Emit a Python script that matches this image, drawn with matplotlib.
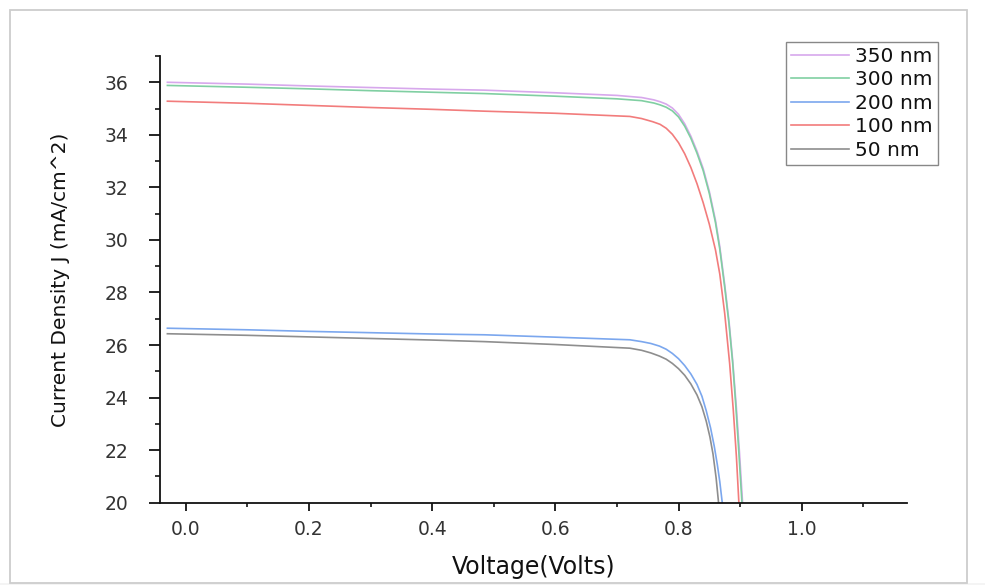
import numpy as np
import matplotlib.pyplot as plt
from matplotlib.ticker import MultipleLocator
from matplotlib.patches import Rectangle

# J-V curves for different layer thicknesses
v_350 = [-0.03, 0.1, 0.2, 0.3, 0.4, 0.485, 0.6, 0.7, 0.74, 0.76, 0.77, 0.78, 0.79, 0.80,
         0.81, 0.82, 0.83, 0.84, 0.85, 0.86, 0.867, 0.875, 0.882, 0.888, 0.894, 0.899, 0.904]
j_350 = [36.00, 35.93, 35.86, 35.80, 35.74, 35.70, 35.60, 35.50, 35.42, 35.33, 35.26, 35.17, 35.02, 34.78,
         34.42, 33.95, 33.38, 32.72, 31.85, 30.75, 29.75, 28.30, 26.90, 25.40, 23.60, 21.90, 20.00]

v_300 = [-0.03, 0.1, 0.2, 0.3, 0.4, 0.485, 0.6, 0.7, 0.74, 0.76, 0.77, 0.78, 0.79, 0.80,
         0.81, 0.82, 0.83, 0.84, 0.85, 0.86, 0.867, 0.875, 0.882, 0.888, 0.893, 0.898, 0.903]
j_300 = [35.88, 35.81, 35.75, 35.68, 35.62, 35.57, 35.47, 35.37, 35.30, 35.21, 35.14, 35.05, 34.91, 34.68,
         34.33, 33.87, 33.30, 32.64, 31.77, 30.66, 29.65, 28.20, 26.80, 25.30, 23.70, 21.90, 20.00]

v_200 = [-0.03, 0.1, 0.2, 0.3, 0.4, 0.485, 0.6, 0.721, 0.74, 0.755, 0.769, 0.78, 0.79, 0.80,
         0.81, 0.82, 0.83, 0.838, 0.845, 0.852, 0.858, 0.863, 0.867, 0.871]
j_200 = [26.64, 26.58, 26.52, 26.47, 26.42, 26.39, 26.30, 26.20, 26.13, 26.06, 25.96, 25.84, 25.68, 25.48,
         25.22, 24.90, 24.50, 24.05, 23.50, 22.85, 22.15, 21.45, 20.80, 20.00]

v_100 = [-0.03, 0.1, 0.2, 0.3, 0.4, 0.485, 0.6, 0.721, 0.74, 0.758, 0.77, 0.78, 0.79, 0.80,
         0.81, 0.82, 0.83, 0.84, 0.85, 0.86, 0.867, 0.875, 0.883, 0.889, 0.894, 0.898]
j_100 = [35.28, 35.20, 35.12, 35.04, 34.97, 34.90, 34.82, 34.70, 34.62, 34.50, 34.40, 34.25, 34.02, 33.70,
         33.28, 32.76, 32.14, 31.42, 30.60, 29.62, 28.70, 27.20, 25.30, 23.50, 21.75, 20.00]

v_50 = [-0.03, 0.1, 0.2, 0.3, 0.4, 0.485, 0.6, 0.721, 0.74, 0.755, 0.769, 0.78, 0.79, 0.80,
        0.81, 0.82, 0.83, 0.838, 0.845, 0.851, 0.856, 0.861, 0.865]
j_50 = [26.43, 26.37, 26.31, 26.25, 26.19, 26.13, 26.02, 25.88, 25.80, 25.70, 25.58, 25.46, 25.30, 25.10,
        24.85, 24.52, 24.10, 23.65, 23.10, 22.50, 21.85, 20.95, 20.00]

labels = ['350 nm', '300 nm', '200 nm', '100 nm', '50 nm']
colors = ['#d7a8ec', '#80cfa2', '#7ba7ee', '#f27c7c', '#8e8e8e']
curves = [(v_350, j_350), (v_300, j_300), (v_200, j_200), (v_100, j_100), (v_50, j_50)]

fig = plt.figure(figsize=(9.85, 5.85), dpi=100)
ax = fig.add_axes([160/985, 1-502.7/585, (907-160)/985, (502.7-56)/585])

for (v, j), lab, c in zip(curves, labels, colors):
    ax.plot(v, j, color=c, lw=1.2, label=lab)

ax.set_xlim(-0.042, 1.171)
ax.set_ylim(20, 37)
ax.xaxis.set_major_locator(MultipleLocator(0.2))
ax.xaxis.set_minor_locator(MultipleLocator(0.1))
ax.yaxis.set_major_locator(MultipleLocator(2))
ax.yaxis.set_minor_locator(MultipleLocator(1))
ax.xaxis.set_major_formatter(plt.FormatStrFormatter('%.1f'))

for s in ['top', 'right']:
    ax.spines[s].set_visible(False)
for s in ['left', 'bottom']:
    ax.spines[s].set_linewidth(1.3)
    ax.spines[s].set_color('#111111')

ax.tick_params(axis='y', which='major', length=8, width=1.2, pad=15,
               labelsize=13.5, labelcolor='#333333')
ax.tick_params(axis='y', which='minor', length=3.6, width=1.1)
ax.tick_params(axis='x', which='major', length=5.8, width=1.2, pad=7,
               labelsize=13.5, labelcolor='#333333')
ax.tick_params(axis='x', which='minor', length=3, width=1.1)

ax.set_xlabel('Voltage(Volts)', fontsize=17, color='#111111')
ax.xaxis.set_label_coords(0.5, -0.116)
ax.set_ylabel('Current Density J (mA/cm^2)', fontsize=14.5, color='#111111')
ax.yaxis.set_label_coords(-0.1205, 0.5)

leg = ax.legend(loc='upper right', bbox_to_anchor=(938/985, 1-42/585),
                bbox_transform=fig.transFigure, borderaxespad=0, fontsize=14.5,
                frameon=True, fancybox=False, framealpha=1, edgecolor='#888888',
                handlelength=2.9, handletextpad=0.3, labelspacing=0.22, borderpad=0.25)
leg.get_frame().set_linewidth(1.0)
for t in leg.get_texts():
    t.set_color('#111111')

# window frame around the figure
fig.add_artist(Rectangle((0, 0), 1, 2/585, transform=fig.transFigure,
                         facecolor='#f4f4f4', edgecolor='none', zorder=10))
fig.add_artist(Rectangle((10/985, 1-583/585), (967-10)/985, (583-10)/585,
                         transform=fig.transFigure, fill=False,
                         edgecolor='#cdcdcd', lw=1.3, zorder=11))

fig.savefig('out.png', dpi=100)
